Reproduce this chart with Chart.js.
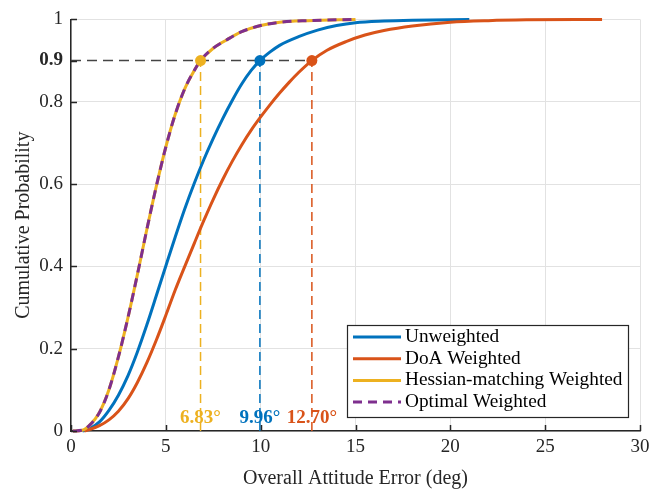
<!DOCTYPE html>
<html><head><meta charset="utf-8">
<script src="https://cdn.jsdelivr.net/npm/chart.js@4"></script>
<style>html,body{margin:0;padding:0;background:#fff}#wrap{width:670px;height:494px;position:relative}</style>
</head><body><div id="wrap"><canvas id="c" width="670" height="494"></canvas></div>
<script>
// ---- data ----
const seriesLabels = ['Unweighted', 'DoA Weighted', 'Hessian-matching Weighted', 'Optimal Weighted'];

const unweightedX = [0.6, 1.0, 1.5, 2.0, 2.5, 3.0, 3.5, 4.0, 4.5, 5.0, 5.5, 6.0, 6.5, 7.0, 7.5, 8.0, 8.5, 9.0, 9.5, 9.96, 10.5, 11.0, 12.0, 13.0, 14.0, 15.0, 16.5, 18.0, 21.0];
const unweightedY = [0, 0.006, 0.022, 0.05, 0.087, 0.134, 0.192, 0.258, 0.329, 0.401, 0.472, 0.54, 0.602, 0.659, 0.711, 0.759, 0.803, 0.843, 0.876, 0.90, 0.921, 0.937, 0.958, 0.974, 0.985, 0.992, 0.996, 0.998, 1.0];

const doaX = [0.7, 1.0, 1.5, 2.0, 2.5, 3.0, 3.5, 4.0, 4.5, 5.0, 5.5, 6.0, 6.5, 7.0, 7.5, 8.0, 8.5, 9.0, 9.5, 10.0, 10.5, 11.0, 11.5, 12.0, 12.7, 13.5, 14.5, 15.5, 16.5, 18.0, 20.0, 22.0, 24.0, 28.0];
const doaY = [0, 0.004, 0.013, 0.027, 0.048, 0.078, 0.118, 0.166, 0.221, 0.281, 0.343, 0.40, 0.456, 0.511, 0.563, 0.611, 0.655, 0.695, 0.731, 0.763, 0.793, 0.821, 0.847, 0.871, 0.90, 0.925, 0.946, 0.962, 0.973, 0.984, 0.993, 0.997, 0.999, 1.0];

const hessianX = [0.1, 0.6, 1.0, 1.5, 2.0, 2.5, 3.0, 3.5, 4.0, 4.5, 5.0, 5.5, 6.0, 6.5, 6.83, 7.5, 8.2, 9.0, 10.0, 11.0, 12.5, 15.0];
const hessianY = [0, 0.002, 0.015, 0.045, 0.10, 0.18, 0.275, 0.38, 0.49, 0.595, 0.69, 0.77, 0.832, 0.876, 0.90, 0.93, 0.95, 0.97, 0.985, 0.993, 0.997, 1.0];

const optimalX = [0.1, 0.6, 1.0, 1.5, 2.0, 2.5, 3.0, 3.5, 4.0, 4.5, 5.0, 5.5, 6.0, 6.5, 6.83, 7.5, 8.2, 9.0, 10.0, 11.0, 12.5, 15.0];
const optimalY = [0, 0.002, 0.015, 0.045, 0.10, 0.18, 0.275, 0.38, 0.49, 0.595, 0.69, 0.77, 0.832, 0.876, 0.90, 0.93, 0.95, 0.97, 0.985, 0.993, 0.997, 1.0];

// 90th-percentile errors: Hessian/Optimal, Unweighted, DoA
const p90X = [6.83, 9.96, 12.70];
const p90Level = 0.9;

const xTicks = [0, 5, 10, 15, 20, 25, 30];
const yTicks = [0, 0.2, 0.4, 0.6, 0.8, 0.9, 1];

// ---- styling ----
const BLUE = '#0072BD', ORANGE = '#D95319', YELLOW = '#EDB120', PURPLE = '#7E2F8E';
const p90Colors = [YELLOW, BLUE, ORANGE];
const FONT = 'Liberation Serif';
const toPts = (xs, ys) => xs.map((x, i) => ({x: x, y: ys[i]}));

const curve = (label, xs, ys, color, dash) => ({
  label, data: toPts(xs, ys), borderColor: color, backgroundColor: color,
  borderWidth: 3, borderDash: dash || [], pointRadius: 0, fill: false,
  cubicInterpolationMode: 'monotone', clip: false
});

const datasets = [
  { label: 'p90', data: p90X.map(x => ({x, y: p90Level})), showLine: false,
    pointRadius: 5.5, pointBackgroundColor: p90Colors, pointBorderColor: p90Colors, pointBorderWidth: 0, clip: false },
  curve(seriesLabels[3], optimalX, optimalY, PURPLE, [9, 6]),
  curve(seriesLabels[2], hessianX, hessianY, YELLOW),
  curve(seriesLabels[1], doaX, doaY, ORANGE),
  curve(seriesLabels[0], unweightedX, unweightedY, BLUE),
  ...p90X.map((x, i) => ({ label: 'v' + i, data: [{x, y: 0}, {x, y: p90Level}],
    borderColor: p90Colors[i], borderWidth: 1.5, borderDash: [9, 5], pointRadius: 0, clip: false })),
  { label: 'h', data: [{x: 0, y: p90Level}, {x: Math.max(...p90X), y: p90Level}],
    borderColor: '#444444', borderWidth: 1.5, borderDash: [10, 6], pointRadius: 0, clip: false }
];

const legendItems = [
  {text: seriesLabels[0], color: BLUE, dash: []},
  {text: seriesLabels[1], color: ORANGE, dash: []},
  {text: seriesLabels[2], color: YELLOW, dash: []},
  {text: seriesLabels[3], color: PURPLE, dash: [9, 6]}
];

const extras = {
  id: 'extras',
  beforeDatasetsDraw(chart) {
    const {ctx, scales: {x, y}} = chart;
    ctx.save();
    ctx.font = 'bold 19px "' + FONT + '"';
    ctx.textAlign = 'center';
    ctx.textBaseline = 'middle';
    p90X.forEach((v, i) => {
      ctx.fillStyle = p90Colors[i];
      ctx.fillText(v.toFixed(2) + '\u00B0', x.getPixelForValue(v), y.getPixelForValue(0) - 13);
    });
    ctx.restore();
  },
  afterDatasetsDraw(chart) {
    const {ctx, chartArea: a, scales: {x, y}} = chart;
    ctx.save();
    // inward tick marks
    ctx.strokeStyle = '#262626';
    ctx.lineWidth = 1.5;
    ctx.beginPath();
    xTicks.forEach(v => { const px = Math.round(x.getPixelForValue(v)) + 0.5; ctx.moveTo(px, a.bottom); ctx.lineTo(px, a.bottom - 6); });
    yTicks.forEach(v => { const py = Math.round(y.getPixelForValue(v)) + 0.5; ctx.moveTo(a.left, py); ctx.lineTo(a.left + 6, py); });
    ctx.stroke();
    // legend
    const w = 281, h = 92;
    const lx = a.right - 12 - w, ly = a.bottom - 14 - h;
    ctx.fillStyle = '#ffffff';
    ctx.fillRect(lx, ly, w, h);
    ctx.strokeStyle = '#262626';
    ctx.lineWidth = 1.2;
    ctx.strokeRect(lx + 0.5, ly + 0.5, w, h);
    ctx.font = '19.3px "' + FONT + '"';
    ctx.textBaseline = 'middle';
    ctx.textAlign = 'left';
    legendItems.forEach((it, i) => {
      const cy = ly + 12 + i * 21.7;
      ctx.strokeStyle = it.color;
      ctx.lineWidth = 3;
      ctx.setLineDash(it.dash);
      ctx.beginPath(); ctx.moveTo(lx + 6, cy); ctx.lineTo(lx + 54, cy); ctx.stroke();
      ctx.setLineDash([]);
      ctx.fillStyle = '#000000';
      ctx.fillText(it.text, lx + 58, cy);
    });
    ctx.restore();
  }
};

new Chart(document.getElementById('c'), {
  type: 'line',
  data: { datasets },
  options: {
    responsive: false,
    animation: false,
    events: [],
    layout: { padding: { top: 10, right: 30, left: 0, bottom: 0 } },
    plugins: { legend: { display: false }, tooltip: { enabled: false } },
    scales: {
      x: {
        type: 'linear', min: 0, max: 30,
        afterBuildTicks: s => { s.ticks = xTicks.map(v => ({value: v})); },
        afterFit: s => { s.height = 63; },
        grid: { color: '#e2e2e2', lineWidth: 1, drawTicks: false },
        border: { color: '#262626', width: 1.5 },
        ticks: { padding: 5, color: '#262626', maxRotation: 0, font: { family: FONT, size: 19 } },
        title: { display: true, text: 'Overall Attitude Error (deg)', color: '#262626',
                 font: { family: FONT, size: 20 }, padding: { top: 0, bottom: 3 } }
      },
      y: {
        type: 'linear', min: 0, max: 1,
        afterBuildTicks: s => { s.ticks = yTicks.map(v => ({value: v})); },
        afterFit: s => { s.width = 71; },
        grid: { color: c => (c.tick && c.tick.value === p90Level) ? 'rgba(0,0,0,0)' : '#e2e2e2', lineWidth: 1, drawTicks: false },
        border: { color: '#262626', width: 1.5 },
        ticks: { padding: 8, color: '#262626',
                 callback: v => String(v),
                 font: c => ({ family: FONT, size: 19, weight: (c.tick && c.tick.value === p90Level) ? 'bold' : 'normal' }) },
        title: { display: true, text: 'Cumulative Probability', color: '#262626',
                 font: { family: FONT, size: 20 }, padding: { top: 12, bottom: 0 } }
      }
    }
  },
  plugins: [extras]
});
</script>
</body></html>
